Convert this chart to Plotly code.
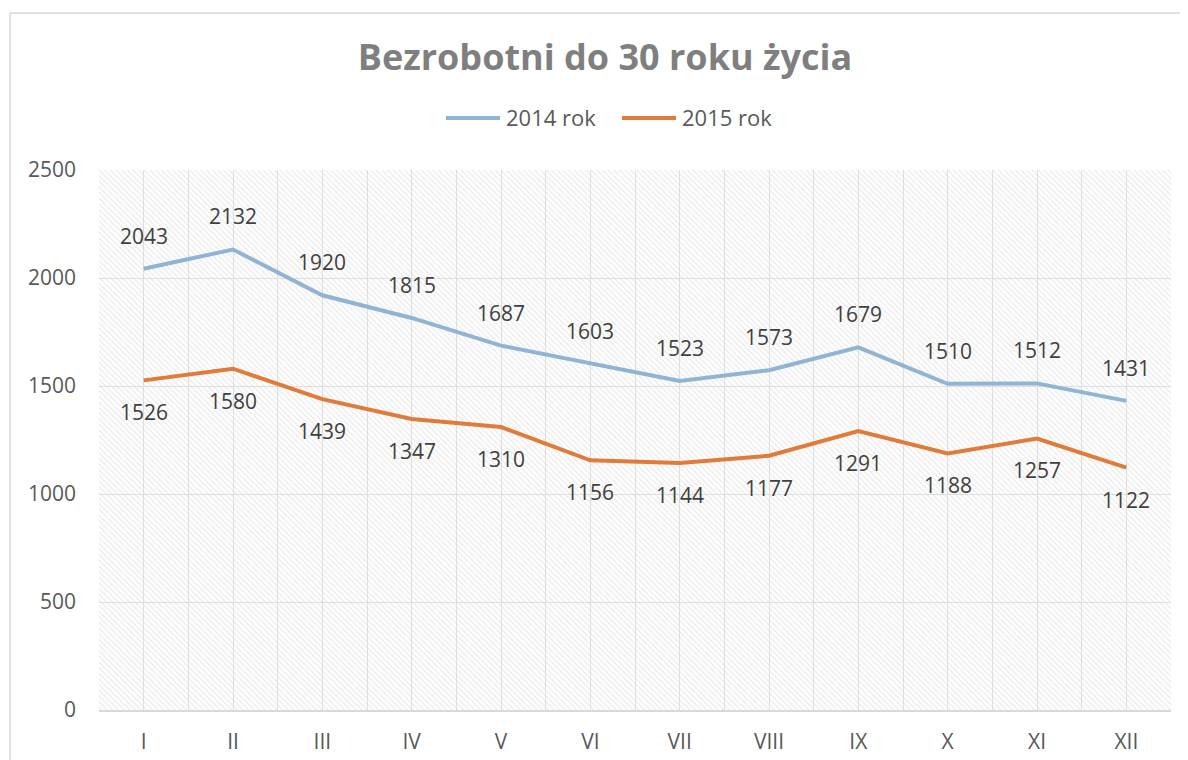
import plotly.graph_objects as go

months = ["I", "II", "III", "IV", "V", "VI", "VII", "VIII", "IX", "X", "XI", "XII"]
values_2014 = [2043, 2132, 1920, 1815, 1687, 1603, 1523, 1573, 1679, 1510, 1512, 1431]
values_2015 = [1526, 1580, 1439, 1347, 1310, 1156, 1144, 1177, 1291, 1188, 1257, 1122]
series_names = ["2014 rok", "2015 rok"]
series_colors = ["#91B4D5", "#E07B39"]
y_ticks = [0, 500, 1000, 1500, 2000, 2500]

FONT = "Open Sans"
idx = list(range(len(months)))
x_lo, x_hi = -0.5, len(months) - 0.5
y_lo, y_hi = y_ticks[0], y_ticks[-1]

# page has an 8px body margin; figure is sized to fit the 1188x760 window
W, H = 1180, 752
L, R, T, B = 91, 17, 162, 50
PW, PH = W - L - R, H - T - B


def px_x(px):
    return (px - 8 - L) / PW


def px_y(py):
    return (T + PH - (py - 8)) / PH


fig = go.Figure()

# hatched plot background
fig.add_trace(go.Scatter(
    x=[x_lo, x_hi, x_hi, x_lo, x_lo], y=[y_lo, y_lo, y_hi, y_hi, y_lo],
    mode="lines", line=dict(width=0), fill="toself",
    fillcolor="rgba(0,0,0,0)",
    fillpattern=dict(shape="\\", fgcolor="#D4D4D4", bgcolor="rgba(0,0,0,0)",
                     size=4, solidity=0.3, fillmode="overlay"),
    hoverinfo="skip", showlegend=False))

for name, vals, col in zip(series_names, [values_2014, values_2015], series_colors):
    fig.add_trace(go.Scatter(x=idx, y=vals, name=name, mode="lines",
                             line=dict(color=col, width=4), showlegend=False))

for i, v in enumerate(values_2014):
    fig.add_annotation(x=i, y=v, text=str(v), showarrow=False, yshift=33,
                       font=dict(family=FONT, size=21, color="#404040"))
for i, v in enumerate(values_2015):
    fig.add_annotation(x=i, y=v, text=str(v), showarrow=False, yshift=-32,
                       font=dict(family=FONT, size=21, color="#404040"))

# legend (Excel style: long line samples)
legend_line_starts = [446, 622]
for name, col, x0 in zip(series_names, series_colors, legend_line_starts):
    fig.add_shape(type="line", xref="paper", yref="paper",
                  x0=px_x(x0), x1=px_x(x0 + 54), y0=px_y(118), y1=px_y(118),
                  line=dict(color=col, width=4))
    fig.add_annotation(xref="paper", yref="paper", x=px_x(x0 + 58), y=px_y(117),
                       xanchor="left", yanchor="middle", text=name, showarrow=False,
                       font=dict(family=FONT, size=22, color="#595959"))

# outer chart border (in page pixels: left 10, top 13)
fig.add_shape(type="rect", xref="paper", yref="paper",
              x0=px_x(10), x1=1.2, y0=-0.3, y1=px_y(13),
              line=dict(color="#D9D9D9", width=1.5), fillcolor="rgba(0,0,0,0)")

fig.update_layout(
    width=W, height=H,
    margin=dict(l=L, r=R, t=T, b=B),
    paper_bgcolor="white", plot_bgcolor="white",
    title=dict(text="<b>Bezrobotni do 30 roku życia</b>", x=(605 - 8) / W, xanchor="center",
               y=1 - (57 - 8) / H, yanchor="middle",
               font=dict(family=FONT, size=36, color="#7F7F7F"), automargin=False),
    showlegend=False,
    xaxis=dict(range=[x_lo, x_hi], tickvals=idx, ticktext=months,
               showgrid=True, gridcolor="#E0E0E0", gridwidth=1,
               minor=dict(tickvals=[i - 0.5 for i in range(len(months) + 1)],
                          showgrid=True, gridcolor="#E0E0E0", gridwidth=1),
               showline=True, linecolor="#D9D9D9", linewidth=2,
               ticks="", zeroline=False, automargin=False,
               tickfont=dict(family=FONT, size=21, color="#595959"),
               ticklabelstandoff=12, fixedrange=True),
    yaxis=dict(range=[y_lo, y_hi], tickvals=y_ticks,
               showgrid=True, gridcolor="#E0E0E0", gridwidth=1,
               showline=False, zeroline=False, ticks="", automargin=False,
               tickfont=dict(family=FONT, size=21, color="#595959"),
               ticklabelstandoff=22, fixedrange=True),
)

fig.write_html("out.html")
